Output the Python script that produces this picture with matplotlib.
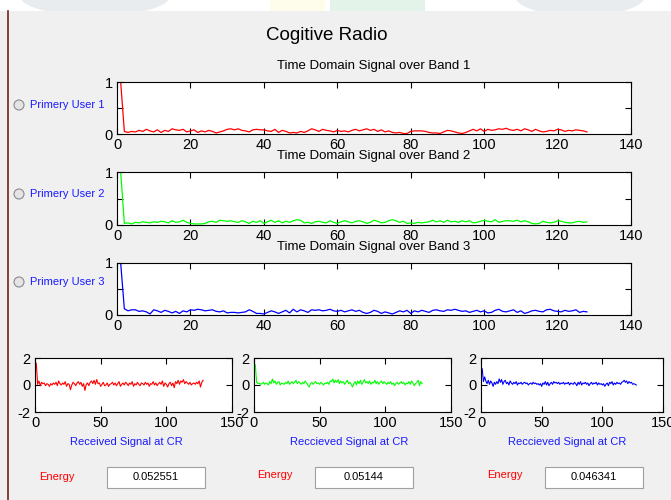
import numpy as np
import matplotlib
matplotlib.use("Agg")
from matplotlib import pyplot as plt
from matplotlib.patches import Rectangle, Circle, Ellipse

plt.rcParams['font.family'] = ['Liberation Sans', 'DejaVu Sans']
plt.rcParams['axes.unicode_minus'] = False

# time domain signals over each band
band1 = [1.00, 0.05, 0.03, 0.05, 0.04, 0.07, 0.05, 0.09, 0.06, 0.04, 0.08, 0.03, 0.07, 0.05, 0.10, 0.08,
         0.07, 0.09, 0.04, 0.06, 0.08, 0.03, 0.06, 0.04, 0.07, 0.05, 0.02, 0.04, 0.06, 0.09, 0.10, 0.08,
         0.10, 0.07, 0.06, 0.04, 0.08, 0.09, 0.08, 0.08, 0.06, 0.05, 0.09, 0.03, 0.07, 0.05, 0.02, 0.03,
         0.02, 0.05, 0.03, 0.06, 0.10, 0.08, 0.05, 0.09, 0.07, 0.06, 0.04, 0.07, 0.05, 0.06, 0.04, 0.07,
         0.09, 0.06, 0.08, 0.10, 0.07, 0.09, 0.05, 0.08, 0.04, 0.06, 0.03, 0.02, 0.03, 0.01, 0.01, 0.05,
         0.06, 0.06, 0.06, 0.05, 0.03, 0.02, 0.02, 0.01, 0.04, 0.07, 0.06, 0.04, 0.02, 0.01, 0.03, 0.06,
         0.09, 0.06, 0.10, 0.05, 0.09, 0.07, 0.08, 0.10, 0.09, 0.11, 0.08, 0.07, 0.09, 0.06, 0.10, 0.08,
         0.05, 0.09, 0.06, 0.04, 0.05, 0.07, 0.06, 0.09, 0.08, 0.05, 0.07, 0.06, 0.08, 0.07, 0.06, 0.04]
band2 = [1.00, 0.03, 0.04, 0.02, 0.05, 0.04, 0.06, 0.05, 0.04, 0.06, 0.05, 0.07, 0.06, 0.04, 0.08, 0.05,
         0.06, 0.09, 0.05, 0.03, 0.02, 0.02, 0.02, 0.03, 0.06, 0.07, 0.05, 0.09, 0.08, 0.07, 0.08, 0.06,
         0.05, 0.08, 0.06, 0.03, 0.07, 0.05, 0.08, 0.03, 0.06, 0.09, 0.05, 0.08, 0.04, 0.07, 0.05, 0.08,
         0.10, 0.09, 0.04, 0.05, 0.03, 0.06, 0.07, 0.05, 0.04, 0.08, 0.05, 0.03, 0.06, 0.08, 0.06, 0.04,
         0.07, 0.08, 0.06, 0.03, 0.05, 0.09, 0.07, 0.04, 0.05, 0.08, 0.10, 0.08, 0.05, 0.07, 0.03, 0.04,
         0.03, 0.05, 0.04, 0.05, 0.06, 0.09, 0.06, 0.08, 0.05, 0.09, 0.06, 0.07, 0.05, 0.08, 0.06, 0.08,
         0.04, 0.05, 0.07, 0.09, 0.07, 0.06, 0.10, 0.05, 0.07, 0.08, 0.08, 0.07, 0.09, 0.06, 0.08, 0.06,
         0.03, 0.02, 0.03, 0.07, 0.05, 0.04, 0.05, 0.08, 0.07, 0.05, 0.04, 0.04, 0.06, 0.07, 0.05, 0.06]
band3 = [1.00, 0.12, 0.08, 0.10, 0.10, 0.07, 0.08, 0.06, 0.02, 0.10, 0.08, 0.05, 0.09, 0.07, 0.04, 0.07,
         0.03, 0.08, 0.06, 0.10, 0.09, 0.11, 0.10, 0.08, 0.09, 0.10, 0.07, 0.06, 0.08, 0.04, 0.05, 0.05,
         0.04, 0.05, 0.06, 0.10, 0.07, 0.03, 0.03, 0.02, 0.05, 0.08, 0.06, 0.03, 0.06, 0.09, 0.04, 0.11,
         0.06, 0.10, 0.08, 0.05, 0.10, 0.09, 0.10, 0.08, 0.09, 0.11, 0.08, 0.07, 0.09, 0.06, 0.08, 0.10,
         0.07, 0.09, 0.05, 0.03, 0.05, 0.09, 0.07, 0.03, 0.06, 0.04, 0.02, 0.05, 0.08, 0.06, 0.09, 0.03,
         0.08, 0.06, 0.09, 0.07, 0.05, 0.09, 0.10, 0.08, 0.07, 0.10, 0.09, 0.11, 0.09, 0.07, 0.08, 0.05,
         0.07, 0.09, 0.06, 0.08, 0.04, 0.05, 0.09, 0.11, 0.07, 0.06, 0.08, 0.10, 0.05, 0.08, 0.03, 0.05,
         0.08, 0.09, 0.07, 0.06, 0.10, 0.11, 0.08, 0.07, 0.06, 0.09, 0.07, 0.08, 0.10, 0.05, 0.07, 0.06]

# received signal at the CR for each band
recv1 = [1.60, 0.05, 0.30, -0.05, 0.20, 0.10, 0.15, -0.05, 0.10, 0.05, -0.10, 0.10, 0.00, 0.15, 0.05, 0.20,
         -0.05, 0.30, 0.10, 0.00, 0.15, 0.05, 0.25, -0.10, 0.10, 0.05, -0.35, 0.00, 0.20, 0.10, -0.05, 0.15,
         0.25, 0.05, 0.20, -0.10, 0.10, -0.40, 0.05, 0.15, -0.05, 0.20, 0.30, 0.10, 0.35, 0.05, 0.40, 0.10,
         0.15, -0.10, 0.05, 0.20, -0.05, 0.00, 0.15, -0.10, 0.05, 0.10, 0.20, 0.00, 0.15, -0.05, 0.10, 0.25,
         -0.10, 0.05, 0.15, 0.00, 0.20, 0.10, -0.05, 0.15, 0.05, 0.25, -0.10, 0.10, 0.00, 0.20, 0.05, -0.05,
         0.15, 0.10, 0.00, 0.20, 0.05, 0.15, -0.10, 0.10, 0.05, 0.25, 0.00, 0.15, -0.05, 0.10, 0.20, 0.05,
         0.30, -0.10, 0.15, 0.05, -0.15, 0.10, 0.20, -0.05, 0.15, -0.20, 0.25, 0.10, 0.35, 0.05, 0.30, 0.20,
         0.40, 0.10, 0.25, 0.15, 0.05, 0.20, 0.00, 0.10, 0.15, 0.05, 0.20, 0.10, 0.30, -0.15, 0.20, 0.35]
recv2 = [1.50, 0.20, 0.10, 0.15, 0.05, 0.10, 0.20, 0.05, 0.15, 0.10, 0.00, 0.25, 0.10, 0.45, 0.15, 0.30,
         0.05, 0.20, 0.25, 0.00, 0.15, 0.10, 0.05, 0.20, 0.10, 0.30, 0.05, 0.15, 0.25, 0.10, 0.20, 0.35,
         0.10, 0.25, 0.15, 0.05, 0.20, 0.10, 0.30, 0.15, 0.00, -0.15, 0.10, 0.20, 0.05, 0.15, 0.25, 0.10,
         0.15, 0.05, 0.20, 0.10, 0.00, 0.15, 0.10, 0.20, 0.05, 0.30, 0.25, 0.45, 0.15, 0.35, 0.20, 0.40,
         0.10, 0.30, 0.15, 0.25, 0.05, 0.20, 0.35, 0.10, 0.20, 0.05, -0.15, 0.10, 0.25, 0.00, 0.30, 0.10,
         0.35, 0.05, 0.20, 0.40, 0.15, 0.25, 0.10, 0.30, 0.05, 0.20, 0.15, 0.35, 0.10, 0.25, 0.05, 0.20,
         0.30, 0.10, 0.25, 0.15, 0.05, 0.20, 0.10, 0.25, 0.05, 0.15, -0.05, 0.10, 0.20, 0.05, 0.15, 0.25,
         0.10, 0.20, 0.00, 0.15, 0.10, 0.25, 0.05, 0.30, 0.15, -0.05, 0.10, 0.20, 0.35, -0.05, 0.25, 0.10]
recv3 = [1.20, 0.25, 0.60, 0.30, 0.10, 0.35, 0.05, 0.30, 0.15, -0.10, 0.20, 0.05, 0.25, 0.10, 0.45, 0.20,
         0.40, 0.05, 0.25, 0.35, 0.10, 0.20, 0.00, 0.30, 0.15, 0.05, 0.20, 0.10, 0.25, 0.00, 0.15, 0.10,
         0.20, 0.05, 0.15, 0.20, 0.10, 0.15, 0.00, 0.10, 0.15, 0.05, 0.20, 0.10, 0.15, 0.05, 0.10, 0.00,
         0.10, -0.10, 0.15, 0.05, 0.25, 0.00, 0.20, -0.05, 0.10, 0.20, 0.05, 0.25, 0.15, 0.20, 0.10, 0.20,
         0.05, 0.15, 0.10, 0.20, 0.05, 0.15, 0.10, 0.20, 0.00, 0.15, 0.10, 0.05, 0.20, 0.10, -0.05, 0.20,
         0.05, 0.25, 0.00, 0.15, 0.10, 0.20, 0.05, 0.15, -0.05, 0.10, 0.20, 0.05, 0.15, 0.10, 0.20, 0.00,
         0.15, 0.05, 0.10, 0.00, 0.10, -0.10, 0.05, 0.15, -0.05, 0.20, 0.10, 0.25, 0.00, 0.15, 0.05, 0.20,
         0.10, 0.15, 0.05, 0.20, 0.25, 0.35, 0.20, 0.30, 0.10, 0.25, 0.15, 0.20, 0.05, 0.10, 0.05, 0.00]

band_titles = ['Time Domain Signal over Band 1', 'Time Domain Signal over Band 2',
               'Time Domain Signal over Band 3']
user_labels = ['Primery User 1', 'Primery User 2', 'Primery User 3']
recv_labels = ['Received Signal at CR', 'Reccieved Signal at CR', 'Reccieved Signal at CR']
energies = ['0.052551', '0.05144', '0.046341']

W, H = 671, 500
fig = plt.figure(figsize=(6.71, 5.0), dpi=100, facecolor='#f0f0f0')


def px(x0, y0, x1, y1):
    # pixel box (top-left origin) -> figure fraction [l, b, w, h]
    return [x0 / W, 1 - y1 / H, (x1 - x0) / W, (y1 - y0) / H]


def style_axes(ax):
    ax.set_facecolor('white')
    ax.tick_params(direction='in', top=True, right=True, length=4, width=0.8,
                   labelsize=10.5, pad=3)
    for s in ax.spines.values():
        s.set_linewidth(0.8)


# background decorations: top strip with faint watermark and left border
bg = fig.add_axes([0, 0, 1, 1], zorder=-10)
bg.set_xlim(0, W)
bg.set_ylim(H, 0)
bg.axis('off')
bg.add_patch(Rectangle((0, 0), W, 11, facecolor='white', edgecolor='none'))
bg.add_patch(Ellipse((95, -4), 150, 40, facecolor='#e8ecee', edgecolor='none'))
bg.add_patch(Rectangle((270, 0), 55, 11, facecolor='#fefcea', edgecolor='none'))
bg.add_patch(Rectangle((330, 0), 95, 11, facecolor='#e4f3ea', edgecolor='none'))
bg.add_patch(Ellipse((580, -4), 130, 40, facecolor='#e8ecee', edgecolor='none'))
bg.add_patch(Rectangle((0, 11), W, H - 11, facecolor='#f0f0f0', edgecolor='none'))
bg.plot([8, 8], [11, H], color='#7a2020', lw=1.2)

fig.text(327 / W, 1 - 36 / H, 'Cogitive Radio', ha='center', va='center', fontsize=13.5)

bands = [band1, band2, band3]
colors = ['#ff0000', '#00ff00', '#0000ff']
top_boxes = [(117, 82, 631, 134), (117, 172, 631, 225), (117, 263, 631, 315)]
title_y = [66, 156, 247]
radio_y = [105, 194, 282]

for i in range(3):
    ax = fig.add_axes(px(*top_boxes[i]))
    x = np.arange(1, len(bands[i]) + 1)
    ax.plot(x, bands[i], color=colors[i], lw=0.9)
    ax.set_xlim(0, 140)
    ax.set_ylim(0, 1)
    ax.set_xticks([0, 20, 40, 60, 80, 100, 120, 140])
    ax.set_yticks([0, 0.5, 1])
    ax.set_yticklabels(['0', '', '1'])
    style_axes(ax)
    fig.text(374 / W, 1 - title_y[i] / H, band_titles[i], ha='center', va='center', fontsize=9.5,
             zorder=5)
    # radio button + label
    bg.add_patch(Circle((19, radio_y[i]), 5, facecolor='#e4e4e4', edgecolor='#8a8a8a', lw=0.8))
    bg.text(30, radio_y[i], user_labels[i], color='#1a1aff', fontsize=8, va='center', ha='left')

recvs = [recv1, recv2, recv3]
bot_boxes = [(35, 358, 232, 412), (254, 358, 451, 412), (481, 358, 663, 412)]
recv_x = [126, 349, 567]
energy_x = [57, 275, 505]
energy_y = [477, 475, 475]
box_x = [(107, 205), (315, 413), (545, 643)]

for i in range(3):
    ax = fig.add_axes(px(*bot_boxes[i]))
    x = np.arange(1, len(recvs[i]) + 1)
    ax.plot(x, recvs[i], color=colors[i], lw=0.8)
    ax.set_xlim(0, 150)
    ax.set_ylim(-2, 2)
    ax.set_xticks([0, 50, 100, 150])
    ax.set_yticks([-2, 0, 2])
    style_axes(ax)
    bg.text(recv_x[i], 442, recv_labels[i], color='#1a1aff', fontsize=8, ha='center', va='center')
    bg.text(energy_x[i], energy_y[i], 'Energy', color='#ff0000', fontsize=8, ha='center', va='center')
    x0, x1 = box_x[i]
    bg.add_patch(Rectangle((x0, 467), x1 - x0, 21, facecolor='white', edgecolor='#a0a0a0', lw=0.8))
    bg.text((x0 + x1) / 2, 477.5, energies[i], color='black', fontsize=8, ha='center', va='center')

fig.savefig('out.png', dpi=100, facecolor=fig.get_facecolor())
